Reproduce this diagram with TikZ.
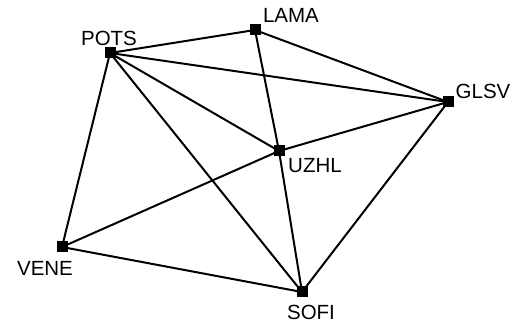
\documentclass[tikz,border=0pt]{standalone}
\usepackage{fontspec}
\setmainfont{Liberation Sans}
\usetikzlibrary{backgrounds}
\begin{document}
\begin{tikzpicture}[x=1pt,y=-1pt,
  station/.style={fill=black,draw=none,minimum size=11pt,inner sep=0pt,rectangle},
  tag/.style={font=\fontsize{20.5}{20.5}\selectfont,inner sep=0pt,anchor=center},
  link/.style={line width=2pt,black}]
\useasboundingbox (0,0) rectangle (515,326);
% stations
\node[station] (pots) at (110,53) {};
\node[station] (lama) at (255,30) {};
\node[station] (glsv) at (448,102) {};
\node[station] (uzhl) at (279,151) {};
\node[station] (vene) at (62,247) {};
\node[station] (sofi) at (302,292) {};
% labels
\node[tag] (potsl) at (109,38) {POTS};
\node[tag] (lamal) at (291,15) {LAMA};
\node[tag] (glsvl) at (483,91) {GLSV};
\node[tag] (uzhll) at (315,166) {UZHL};
\node[tag] (venel) at (45,268) {VENE};
\node[tag] (sofil) at (311,312) {SOFI};
% baselines
\begin{scope}[on background layer]
\draw[link] (pots.center) -- (lama.center);
\draw[link] (pots.center) -- (glsv.center);
\draw[link] (pots.center) -- (uzhl.center);
\draw[link] (pots.center) -- (sofi.center);
\draw[link] (pots.center) -- (vene.center);
\draw[link] (lama.center) -- (uzhl.center);
\draw[link] (lama.center) -- (glsv.center);
\draw[link] (uzhl.center) -- (glsv.center);
\draw[link] (uzhl.center) -- (vene.center);
\draw[link] (uzhl.center) -- (sofi.center);
\draw[link] (vene.center) -- (sofi.center);
\draw[link] (sofi.center) -- (glsv.center);
\end{scope}
\end{tikzpicture}
\end{document}
